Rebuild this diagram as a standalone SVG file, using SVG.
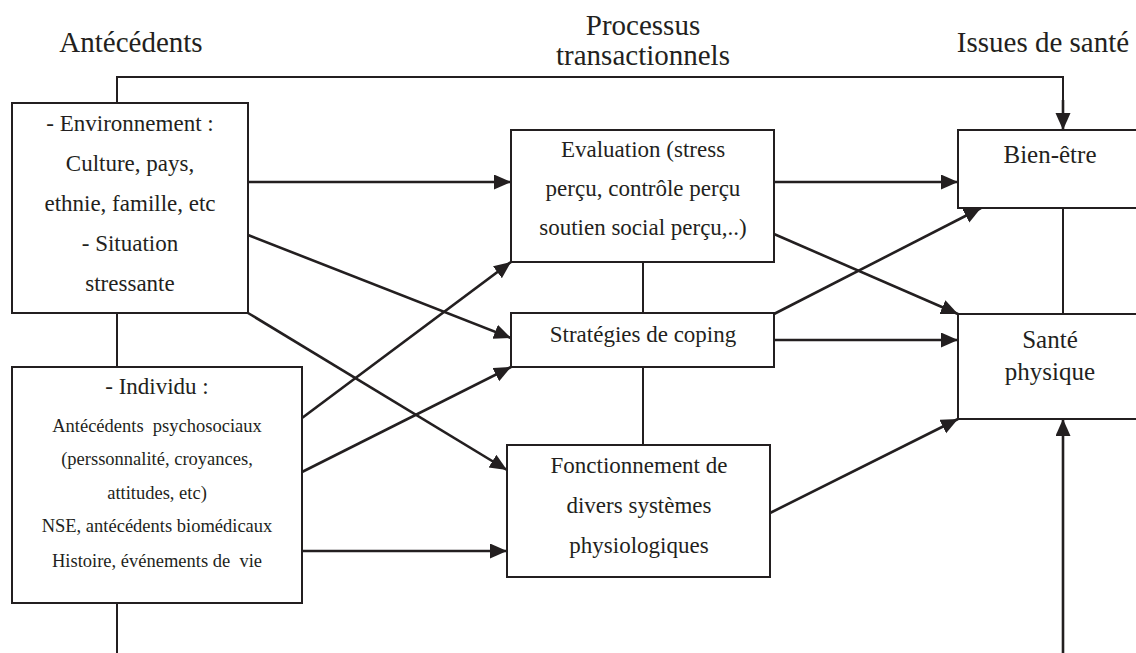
<svg xmlns="http://www.w3.org/2000/svg" width="1136" height="653" viewBox="0 0 1136 653" font-family="'Liberation Serif', 'DejaVu Serif', serif">
<style>
text{fill:#231f20;text-anchor:middle}
.hd{font-size:29px}
.t{font-size:23px}
.s{font-size:18.5px}
.r{font-size:25px}
.box{fill:#fff;stroke:#231f20;stroke-width:2}
.ln{fill:none;stroke:#231f20;stroke-width:2}
.ar{fill:none;stroke:#231f20;stroke-width:2.6;marker-end:url(#ah)}
</style>
<defs>
<marker id="ah" markerUnits="userSpaceOnUse" markerWidth="18" markerHeight="16" refX="17" refY="7.5" orient="auto">
<path d="M0,0 L17,7.5 L0,15 z" fill="#231f20"/>
</marker>
</defs>
<rect width="1136" height="653" fill="#fff"/>
<g id="headers">
<text class="hd" x="131" y="52">Antécédents</text>
<text class="hd" x="643" y="35">Processus</text>
<text class="hd" x="643" y="65">transactionnels</text>
<text class="hd" x="1043" y="52">Issues de santé</text>
</g>
<g id="connectors">
<path class="ln" d="M117,103 V77 H1063 V112"/>
<path class="ar" d="M1063,100 V130"/>
<path class="ln" d="M117,313 V367"/>
<path class="ln" d="M117,603 V653"/>
<path class="ln" d="M643,262 V313"/>
<path class="ln" d="M643,367 V445"/>
<path class="ln" d="M1063,208 V314"/>
<path class="ar" d="M248,182 H511"/>
<path class="ar" d="M248,235 L511,338"/>
<path class="ar" d="M248,313 L507,470"/>
<path class="ar" d="M302,418 L511,262"/>
<path class="ar" d="M302,472 L511,367"/>
<path class="ar" d="M302,551 H507"/>
<path class="ar" d="M774,182 H958"/>
<path class="ar" d="M774,234 L958,314"/>
<path class="ar" d="M774,314 L981,208"/>
<path class="ar" d="M774,340 H958"/>
<path class="ar" d="M770,513 L958,419"/>
<path class="ar" d="M1063,653 V419"/>
</g>
<g id="environnement">
<rect class="box" x="12" y="103" width="236" height="210"/>
<text class="t" x="130" y="131">- Environnement :</text>
<text class="t" x="130" y="171">Culture, pays,</text>
<text class="t" x="130" y="211">ethnie, famille, etc</text>
<text class="t" x="130" y="251">- Situation</text>
<text class="t" x="130" y="291">stressante</text>
</g>
<g id="individu">
<rect class="box" x="12" y="367" width="290" height="236"/>
<text class="t" x="157" y="394">- Individu :</text>
<text class="s" x="157" y="432" xml:space="preserve">Antécédents  psychosociaux</text>
<text class="s" x="157" y="465">(perssonnalité, croyances,</text>
<text class="s" x="157" y="499">attitudes, etc)</text>
<text class="s" x="157" y="532">NSE, antécédents biomédicaux</text>
<text class="s" x="157" y="567" xml:space="preserve">Histoire, événements de  vie</text>
</g>
<g id="evaluation">
<rect class="box" x="511" y="130" width="263" height="132"/>
<text class="t" x="643" y="157">Evaluation (stress</text>
<text class="t" x="643" y="196">perçu, contrôle perçu</text>
<text class="t" x="643" y="235">soutien social perçu,..)</text>
</g>
<g id="coping">
<rect class="box" x="511" y="313" width="263" height="54"/>
<text class="t" x="643" y="342">Stratégies de coping</text>
</g>
<g id="fonctionnement">
<rect class="box" x="507" y="445" width="263" height="132"/>
<text class="t" x="639" y="473">Fonctionnement de</text>
<text class="t" x="639" y="513">divers systèmes</text>
<text class="t" x="639" y="553">physiologiques</text>
</g>
<g id="bien-etre">
<rect class="box" x="958" y="130" width="190" height="78"/>
<text class="r" x="1050" y="163">Bien-être</text>
</g>
<g id="sante">
<rect class="box" x="958" y="314" width="190" height="105"/>
<text class="r" x="1050" y="348">Santé</text>
<text class="r" x="1050" y="380">physique</text>
</g>
</svg>
